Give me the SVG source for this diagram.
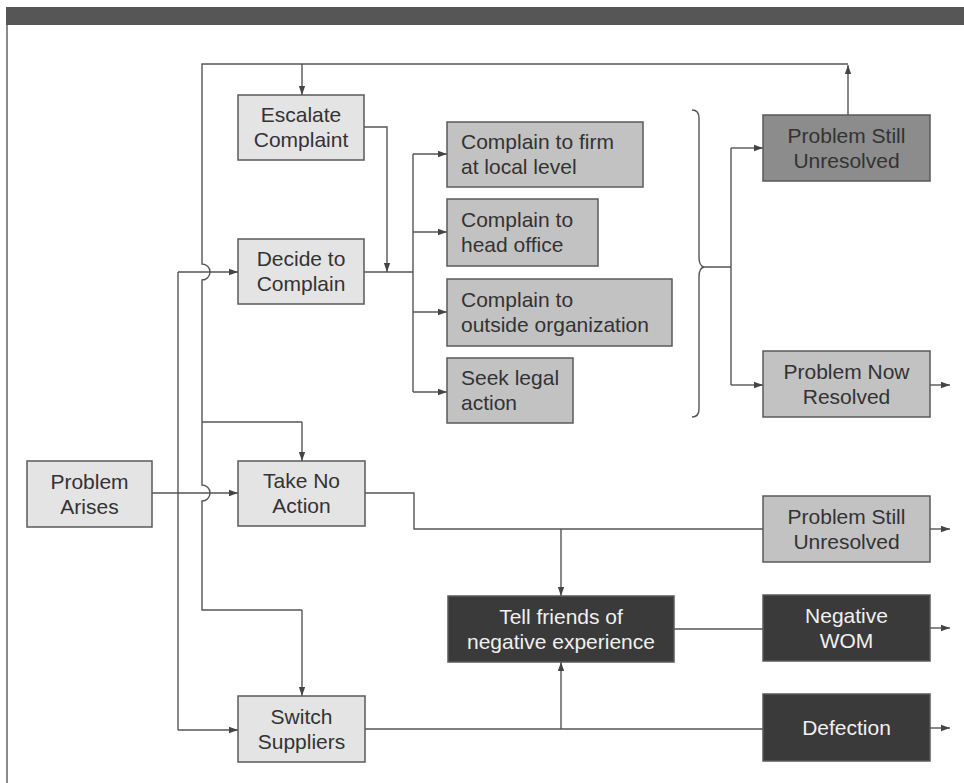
<svg xmlns="http://www.w3.org/2000/svg" width="964" height="783" viewBox="0 0 964 783">
  <defs>
    <marker id="arrow" viewBox="0 0 10 10" refX="10" refY="5" markerWidth="9" markerHeight="9" markerUnits="userSpaceOnUse" orient="auto">
      <path d="M0,1.5 L10,5 L0,8.5 Z" fill="#444"/>
    </marker>
    <style>
      .box { stroke: #5a5a5a; stroke-width: 1.5; }
      .light { fill: #e4e4e4; }
      .mid { fill: #c2c2c2; }
      .darkish { fill: #8c8c8c; }
      .dark { fill: #3a3a3a; }
      .lbl { font-family: "Liberation Sans", Arial, Helvetica, sans-serif; font-size: 21px; fill: #333; }
      .c { text-anchor: middle; }
      .inv { fill: #f0f0f0; }
      .wire { fill: none; stroke: #555; stroke-width: 1.4; }
      .arr { marker-end: url(#arrow); }
    </style>
  </defs>

  <rect width="964" height="783" fill="#ffffff"/>
  <!-- page frame: header band and left rule -->
  <rect x="6" y="7" width="958" height="18" fill="#565656"/>
  <line x1="7" y1="25" x2="7" y2="783" stroke="#8a8a8a" stroke-width="2"/>

  <g id="connectors">
    <!-- feedback loop from unresolved outcome back to escalation -->
    <path class="wire arr" d="M848,115 V65"/>
    <path class="wire" d="M848,64 H202 V264 A8,8 0 0 1 202,280 V485 A8,8 0 0 1 202,501 V610 H302"/>
    <path class="wire arr" d="M302,64 V95"/>
    <path class="wire" d="M202,422 H302"/>
    <path class="wire arr" d="M302,422 V461"/>
    <path class="wire arr" d="M302,610 V696"/>
    <!-- problem arises to the three responses -->
    <path class="wire arr" d="M152,493 H238"/>
    <path class="wire" d="M178,272 V730"/>
    <path class="wire arr" d="M178,272 H238"/>
    <path class="wire arr" d="M178,730 H238"/>
    <!-- complaint channels -->
    <path class="wire arr" d="M364,127 H387 V272"/>
    <path class="wire" d="M364,272 H413 M413,154 V392"/>
    <path class="wire arr" d="M413,154 H447"/>
    <path class="wire arr" d="M413,232 H447"/>
    <path class="wire arr" d="M413,312 H447"/>
    <path class="wire arr" d="M413,392 H447"/>
    <!-- brace gathering the channels -->
    <path class="wire" d="M692,110 Q699,110 699,118 V257 Q699,266 704,267 Q699,268 699,277 V409 Q699,417 692,417"/>
    <path class="wire" d="M704,267 H731 M731,148 V385"/>
    <path class="wire arr" d="M731,148 H763"/>
    <path class="wire arr" d="M731,385 H763"/>
    <!-- no action / switch outcomes -->
    <path class="wire" d="M365,493 H414 V529 H763"/>
    <path class="wire arr" d="M561,529 V596"/>
    <path class="wire" d="M365,729 H763"/>
    <path class="wire arr" d="M561,729 V662"/>
    <path class="wire" d="M674,629 H763"/>
    <!-- outgoing arrows -->
    <path class="wire arr" d="M930,385 H950"/>
    <path class="wire arr" d="M930,529 H950"/>
    <path class="wire arr" d="M930,628 H950"/>
    <path class="wire arr" d="M930,728 H950"/>
  </g>

  <g id="problem-arises">
    <rect class="box light" x="27" y="461" width="125" height="66"/>
    <text class="lbl c" x="89.5" y="489">Problem</text>
    <text class="lbl c" x="89.5" y="514">Arises</text>
  </g>
  <g id="escalate-complaint">
    <rect class="box light" x="238" y="95" width="126" height="65"/>
    <text class="lbl c" x="301" y="122">Escalate</text>
    <text class="lbl c" x="301" y="147">Complaint</text>
  </g>
  <g id="decide-to-complain">
    <rect class="box light" x="238" y="239" width="126" height="65"/>
    <text class="lbl c" x="301" y="266">Decide to</text>
    <text class="lbl c" x="301" y="291">Complain</text>
  </g>
  <g id="take-no-action">
    <rect class="box light" x="238" y="461" width="127" height="65"/>
    <text class="lbl c" x="301.5" y="488">Take No</text>
    <text class="lbl c" x="301.5" y="513">Action</text>
  </g>
  <g id="switch-suppliers">
    <rect class="box light" x="238" y="696" width="127" height="66"/>
    <text class="lbl c" x="301.5" y="724">Switch</text>
    <text class="lbl c" x="301.5" y="749">Suppliers</text>
  </g>

  <g id="complain-local">
    <rect class="box mid" x="447" y="122" width="196" height="65"/>
    <text class="lbl" x="461" y="149">Complain to firm</text>
    <text class="lbl" x="461" y="174">at local level</text>
  </g>
  <g id="complain-head-office">
    <rect class="box mid" x="447" y="199" width="151" height="67"/>
    <text class="lbl" x="461" y="227">Complain to</text>
    <text class="lbl" x="461" y="252">head office</text>
  </g>
  <g id="complain-outside">
    <rect class="box mid" x="447" y="279" width="225" height="67"/>
    <text class="lbl" x="461" y="307">Complain to</text>
    <text class="lbl" x="461" y="332">outside organization</text>
  </g>
  <g id="seek-legal">
    <rect class="box mid" x="447" y="358" width="126" height="65"/>
    <text class="lbl" x="461" y="385">Seek legal</text>
    <text class="lbl" x="461" y="410">action</text>
  </g>

  <g id="still-unresolved-top">
    <rect class="box darkish" x="763" y="115" width="167" height="66"/>
    <text class="lbl c" x="846.5" y="143">Problem Still</text>
    <text class="lbl c" x="846.5" y="168">Unresolved</text>
  </g>
  <g id="now-resolved">
    <rect class="box mid" x="763" y="351" width="167" height="66"/>
    <text class="lbl c" x="846.5" y="379">Problem Now</text>
    <text class="lbl c" x="846.5" y="404">Resolved</text>
  </g>
  <g id="still-unresolved">
    <rect class="box mid" x="763" y="496" width="167" height="66"/>
    <text class="lbl c" x="846.5" y="524">Problem Still</text>
    <text class="lbl c" x="846.5" y="549">Unresolved</text>
  </g>
  <g id="tell-friends">
    <rect class="box dark" x="448" y="596" width="226" height="66"/>
    <text class="lbl c inv" x="561" y="624">Tell friends of</text>
    <text class="lbl c inv" x="561" y="649">negative experience</text>
  </g>
  <g id="negative-wom">
    <rect class="box dark" x="763" y="595" width="167" height="66"/>
    <text class="lbl c inv" x="846.5" y="623">Negative</text>
    <text class="lbl c inv" x="846.5" y="648">WOM</text>
  </g>
  <g id="defection">
    <rect class="box dark" x="763" y="694" width="167" height="67"/>
    <text class="lbl c inv" x="846.5" y="735">Defection</text>
  </g>
</svg>
